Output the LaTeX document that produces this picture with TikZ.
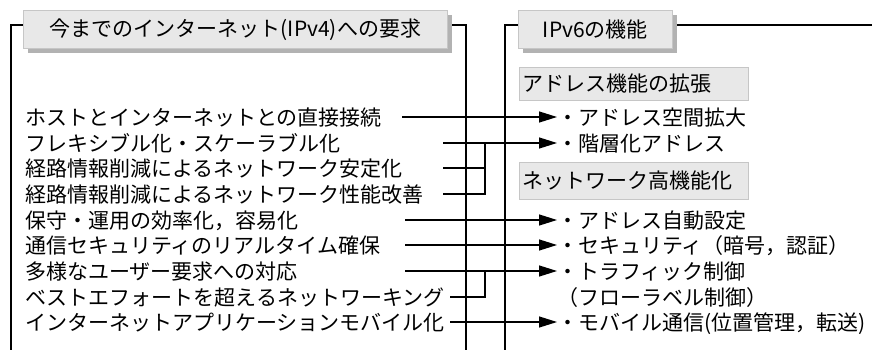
\documentclass[tikz,border=0pt]{standalone}
\usepackage{fontspec}
\setmainfont{Noto Sans CJK JP}
\usetikzlibrary{arrows.meta,shadows}

\tikzset{
  linea/.style={line width=1.3pt},
  freccia/.style={linea,-{Triangle[length=18pt,width=11pt]}},
  testo/.style={font=\fontsize{21pt}{25pt}\selectfont},
  titolo/.style={testo,draw=gray!45,fill=gray!18,line width=0.8pt,
    anchor=north west,inner sep=0pt,minimum height=38pt,
    drop shadow={shadow xshift=5pt,shadow yshift=-5pt,fill=black!30,opacity=1}},
  sezione/.style={testo,draw=gray!45,fill=gray!18,line width=0.8pt,
    anchor=north west,inner xsep=3pt,inner ysep=0pt,
    text width=223pt,align=left},
  voce/.style={testo,anchor=west,inner sep=0pt,text height=18.5pt,text depth=2.5pt}
}

\begin{document}
\begin{tikzpicture}[x=1pt,y=-1pt]
        \useasboundingbox (0,0) rectangle (872,350);
        %cornice sinistra
        \draw[linea](11,350)--(11,25)--(466,25)--(466,350);
        %cornice destra
        \draw[linea](505,350)--(505,25)--(872,25);
        %titoli
        \node[titolo,minimum width=424pt](t1) at (23,10){今までのインターネット(IPv4)への要求};
        \node[titolo,minimum width=154pt](t2) at (518,10){IPv6の機能};
        %sezioni
        \node[sezione,minimum height=33pt](s1) at (519,67){アドレス機能の拡張};
        \node[sezione,minimum height=37pt](s2) at (519,162){ネットワーク高機能化};
        %requisiti IPv4
        \node[voce](r1) at (25,117){ホストとインターネットとの直接接続};
        \node[voce](r2) at (25,143){フレキシブル化・スケーラブル化};
        \node[voce](r3) at (25,168){経路情報削減によるネットワーク安定化};
        \node[voce](r4) at (25,194){経路情報削減によるネットワーク性能改善};
        \node[voce](r5) at (25,220){保守・運用の効率化，容易化};
        \node[voce](r6) at (25,245){通信セキュリティのリアルタイム確保};
        \node[voce](r7) at (25,271){多様なユーザー要求への対応};
        \node[voce](r8) at (25,297){ベストエフォートを超えるネットワーキング};
        \node[voce](r9) at (25,322){インターネットアプリケーションモバイル化};
        %funzioni IPv6
        \node[voce](f1) at (557,117){・アドレス空間拡大};
        \node[voce](f2) at (557,143){・階層化アドレス};
        \node[voce](f5) at (557,220){・アドレス自動設定};
        \node[voce](f6) at (557,245){・セキュリティ（暗号，認証）};
        \node[voce](f7) at (557,271){・トラフィック制御};
        \node[voce](f8) at (557,297){（フローラベル制御）};
        \node[voce](f9) at (557,322){・モバイル通信(位置管理，転送)};
        %collegamenti
        \coordinate(g1) at (485,0 |- r2);
        \coordinate(g2) at (485,0 |- r7);
        \draw[freccia](402,0 |- r1)--(f1.west);
        \draw[freccia](443,0 |- r2)--(f2.west);
        \draw[linea](443,0 |- r3)-|(g1);
        \draw[linea](443,0 |- r4)-|(g1);
        \draw[freccia](405,0 |- r5)--(f5.west);
        \draw[freccia](405,0 |- r6)--(f6.west);
        \draw[freccia](405,0 |- r7)--(f7.west);
        \draw[linea](450,0 |- r8)-|(g2);
        \draw[freccia](450,0 |- r9)--(f9.west);
    \end{tikzpicture}
\end{document}
